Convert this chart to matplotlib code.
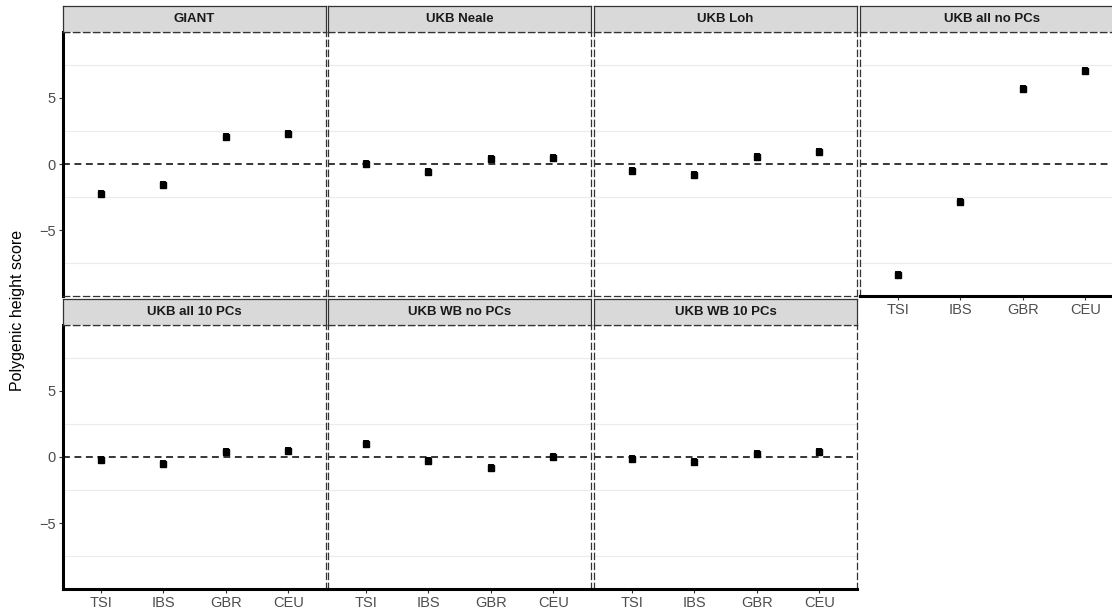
import matplotlib
matplotlib.use('Agg')
import matplotlib.pyplot as plt

plt.rcParams['font.family'] = ['Liberation Sans', 'DejaVu Sans']

populations = ['TSI', 'IBS', 'GBR', 'CEU']
panel_names = ['GIANT', 'UKB Neale', 'UKB Loh', 'UKB all no PCs',
               'UKB all 10 PCs', 'UKB WB no PCs', 'UKB WB 10 PCs']

giant = [-2.23, -1.6, 2.05, 2.27]
ukb_neale = [-0.02, -0.63, 0.35, 0.42]
ukb_loh = [-0.5, -0.85, 0.5, 0.88]
ukb_all_no_pcs = [-8.36, -2.9, 5.65, 7.0]
ukb_all_10_pcs = [-0.25, -0.55, 0.38, 0.42]
ukb_wb_no_pcs = [0.99, -0.3, -0.86, 0.03]
ukb_wb_10_pcs = [-0.15, -0.4, 0.22, 0.36]

scores = [giant, ukb_neale, ukb_loh, ukb_all_no_pcs,
          ukb_all_10_pcs, ukb_wb_no_pcs, ukb_wb_10_pcs]

W, H = 1112, 613
fig = plt.figure(figsize=(W / 100, H / 100), dpi=100)

col_left = [63, 328, 594, 860]
pw, ph, sh = 263, 264, 26
row_top = [32, 325]

for k, (name, vals) in enumerate(zip(panel_names, scores)):
    r, c = divmod(k, 4)
    left = col_left[c]
    top = row_top[r]
    ax = fig.add_axes([left / W, 1 - (top + ph) / H, pw / W, ph / H])
    sax = fig.add_axes([left / W, 1 - top / H, pw / W, sh / H])

    x = list(range(1, len(populations) + 1))
    for g in [-7.5, -2.5, 2.5, 7.5]:
        ax.axhline(g, color='#ebebeb', lw=0.8, zorder=0)
    ax.axhline(0, color='black', lw=1.1, ls=(0, (4.5, 3)), zorder=1)
    ax.errorbar(x, vals, yerr=0.3, fmt='s', color='black', ms=4.2,
                elinewidth=4.2, capsize=0, zorder=3)

    ax.set_xlim(0.4, 4.6)
    ax.set_ylim(-9.95, 9.95)
    ax.set_xticks(x)
    ax.set_xticklabels(populations)
    ax.set_yticks([-5, 0, 5])
    ax.set_yticklabels(['\u22125', '0', '5'])
    ax.tick_params(colors='#333333', labelcolor='#4d4d4d', labelsize=10.5,
                   length=3, width=0.8, pad=2)

    for s in ax.spines.values():
        s.set_linestyle((0, (5, 3)))
        s.set_color('#333333')
        s.set_linewidth(0.9)

    has_x = (r == 1) or (k == 3)
    has_y = (c == 0)
    if has_y:
        ax.spines['left'].set_linestyle('-')
        ax.spines['left'].set_color('black')
        ax.spines['left'].set_linewidth(2.2)
    else:
        ax.tick_params(axis='y', left=False, labelleft=False)
    if has_x:
        ax.spines['bottom'].set_linestyle('-')
        ax.spines['bottom'].set_color('black')
        ax.spines['bottom'].set_linewidth(2.2)
    else:
        ax.tick_params(axis='x', bottom=False, labelbottom=False)

    sax.set_facecolor('#d9d9d9')
    sax.set_xticks([])
    sax.set_yticks([])
    for s in sax.spines.values():
        s.set_color('#333333')
        s.set_linewidth(0.9)
    sax.spines['bottom'].set_linestyle((0, (5, 3)))
    sax.text(0.5, 0.5, name, ha='center', va='center', fontsize=9.5,
             fontweight='bold', color='#1a1a1a', transform=sax.transAxes)

fig.text(18 / W, 1 - 310 / H, 'Polygenic height score', rotation=90,
         ha='center', va='center', fontsize=11.5, color='black')

fig.savefig('out.png', dpi=100)
